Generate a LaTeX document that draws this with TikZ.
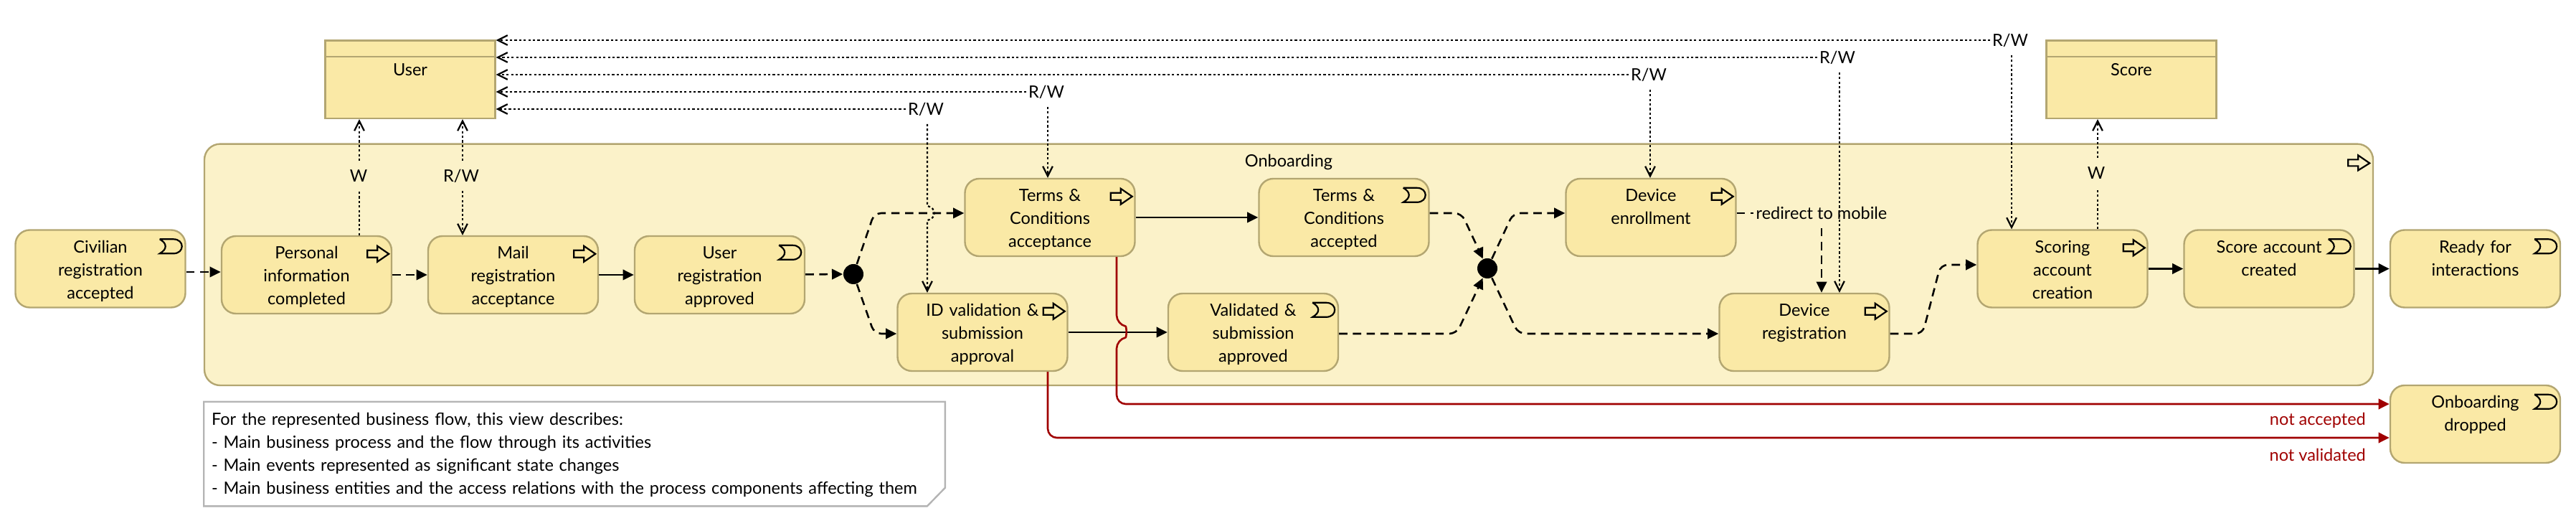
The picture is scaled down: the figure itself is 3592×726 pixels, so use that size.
\documentclass[tikz,border=0pt]{standalone}
\usepackage{fontspec}
\setmainfont{Lato}
\usetikzlibrary{arrows.meta,calc}
\definecolor{boxfill}{HTML}{FAE9A6}
\definecolor{groupfill}{HTML}{FBF2C9}
\definecolor{boxline}{HTML}{B3A671}
\definecolor{noteline}{HTML}{B4B4B4}
\definecolor{dropred}{HTML}{A00000}
\newcommand{\procicon}[1]{\draw[icon,shift={(#1.north east)}] (-35,21) -- (-21,21) -- (-21,15) -- (-5,26) -- (-21,37) -- (-21,31) -- (-35,31) -- cycle;}
\newcommand{\eventicon}[1]{\draw[icon,shift={(#1.north east)}] (-37,14) -- (-18,14) .. controls (-10,14) and (-6,19) .. (-6,24) .. controls (-6,29) and (-10,34) .. (-18,34) -- (-37,34) .. controls (-32,31) and (-29,28) .. (-29,24) .. controls (-29,20) and (-32,17) .. (-37,14);}
\newcommand{\objhead}[1]{\draw[boxline,line width=0.6pt] ($(#1.north west)+(0,24)$) -- ($(#1.north east)+(0,24)$);}
\begin{document}
\begin{tikzpicture}[x=0.25pt,y=-0.25pt,
txt/.style ={font=\fontsize{5.88pt}{8pt}\selectfont, inner sep=0pt, align=center},
group/.style ={txt, rectangle, draw=boxline, fill=groupfill, line width=0.6pt,
  rounded corners=5.5pt, text width=756pt, text height=8pt, text depth=76.1pt
},
block/.style ={txt, rectangle, draw=boxline, fill=boxfill, line width=0.6pt,
  rounded corners=5pt, text width=59.25pt, text height=8pt, text depth=19pt
},
object/.style ={txt, rectangle, draw=boxline, fill=boxfill, line width=0.6pt,
  text width=59.25pt, text height=12.25pt, text depth=14.9pt
},
junction/.style ={circle, fill=black, inner sep=0pt, minimum size=7pt},
lab/.style ={txt, inner xsep=0.6pt, minimum height=10pt},
note/.style ={txt, align=left, text width=253pt, text height=8pt, text depth=28pt,
  inner xsep=2.5pt
},
icon/.style ={draw=black, line width=0.55pt, fill=none},
flow/.style ={line width=0.65pt, -{Triangle[length=3.8pt,width=3.6pt]}},
flowd/.style ={flow, dash pattern=on 2.9pt off 1.9pt, rounded corners=2.5pt},
drop/.style ={line width=0.65pt, draw=dropred, rounded corners=3.2pt,
  -{Triangle[length=3.8pt,width=3.6pt,fill=dropred]}
},
access/.style ={line width=0.55pt, dash pattern=on 0.8pt off 0.8pt,
  -{Straight Barb[length=3.4pt,width=3.4pt]}
}]
\useasboundingbox (0,0) rectangle (3592,726);
\node (onb) at (1797,368.8) [group] {Onboarding};
\node (uobj) at (572,110.7) [object] {User};
\node (sobj) at (2972,110.7) [object] {Score};
\node (civ) at (140,374.5) [block] {Civilian\\registration\\accepted};
\node (pinf) at (427.5,383) [block] {Personal\\information\\completed};
\node (mail) at (715.5,383) [block] {Mail\\registration\\acceptance};
\node (ureg) at (1003.5,383) [block] {User\\registration\\approved};
\node (j1) at (1190,382) [junction] {};
\node (tca) at (1464,303) [block] {Terms \&\\Conditions\\acceptance};
\node (idv) at (1370,463) [block] {ID validation \&\\submission\\approval};
\node (tcd) at (1874,303) [block] {Terms \&\\Conditions\\accepted};
\node (vsa) at (1747.5,463) [block] {Validated \&\\submission\\approved};
\node (j2) at (2074,374) [junction] {};
\node (denr) at (2302,303) [block] {Device\\enrollment};
\node (dreg) at (2516,463) [block] {Device\\registration};
\node (scor) at (2876,374.5) [block] {Scoring\\account\\creation};
\node (sacc) at (3164,374.5) [block] {Score account\\created};
\node (rdy) at (3451.5,374.5) [block] {Ready for\\interactions};
\node (drp) at (3451.5,591) [block] {Onboarding\\dropped};
\node (note) at (801,632.6) [note] {For the represented business flow, this view describes:\\- Main business process and the flow through its activities\\- Main events represented as significant state changes\\- Main business entities and the access relations with the process components affecting them};
\draw[noteline,line width=0.6pt] (note.north west) -- (note.north east) -- ($(note.south east)+(0,-25.6)$) -- ($(note.south east)+(-25,0)$) -- (note.south west) -- cycle;
\objhead{uobj}
\objhead{sobj}
\procicon{pinf}
\procicon{mail}
\procicon{tca}
\procicon{idv}
\procicon{denr}
\procicon{dreg}
\procicon{scor}
\eventicon{civ}
\eventicon{ureg}
\eventicon{tcd}
\eventicon{vsa}
\eventicon{sacc}
\eventicon{rdy}
\eventicon{drp}
\draw[icon,shift={(onb.north east)}] (-36,23) -- (-22,23) -- (-22,17) -- (-6,28) -- (-22,38) -- (-22,32) -- (-36,32) -- cycle;
\node (rw1) at (2803,56) [lab] {R/W};
\node (rw2) at (2562,80) [lab] {R/W};
\node (rw3) at (2299,104) [lab] {R/W};
\node (rw4) at (1459,128) [lab] {R/W};
\node (rw5) at (1291,152) [lab] {R/W};
\node (wu) at (500,245) [lab] {W};
\node (rwu) at (643,245) [lab] {R/W};
\node (ws) at (2923,241) [lab] {W};
\node (redir) at (2540,297) [lab] {redirect to mobile};
\node (nacc) at (3302,586) [lab,anchor=east,text=dropred] {not accepted};
\node (nval) at (3302,634) [lab,anchor=east,text=dropred] {not validated};
\draw[access] (rw1) -- (uobj.north east |- rw1);
\draw[access] (rw2) -- (uobj.north east |- rw2);
\draw[access] (rw3) -- (uobj.north east |- rw3);
\draw[access] (rw4) -- (uobj.north east |- rw4);
\draw[access] (rw5) -- (uobj.north east |- rw5);
\draw[access] (2805,0 |- rw1.south) -- (2805,0 |- scor.north);
\draw[access] (2565,0 |- rw2.south) -- (2565,0 |- dreg.north);
\draw[access] (2301,0 |- rw3.south) -- (2301,0 |- denr.north);
\draw[access] (1461,0 |- rw4.south) -- (1461,0 |- tca.north);
\draw[access] (1293,0 |- rw5.south) -- (1293,287) .. controls (1306,289) and (1306,305) .. (1293,307) -- (1293,0 |- idv.north);
\draw[access,-] (501,0 |- pinf.north) -- (501,0 |- wu.south);
\draw[access] (501,0 |- wu.north) -- (501,0 |- uobj.south);
\draw[access] (645,0 |- rwu.south) -- (645,0 |- mail.north);
\draw[access] (645,0 |- rwu.north) -- (645,0 |- uobj.south);
\draw[access,-] (2925,0 |- scor.north) -- (2925,0 |- ws.south);
\draw[access] (2925,0 |- ws.north) -- (2925,0 |- sobj.south);
\draw[flowd] (civ.east |- 0,379) -- (pinf.west |- 0,379);
\draw[flowd] (pinf) -- (mail);
\draw[flow] (mail) -- (ureg);
\draw[flowd] (ureg) -- (j1);
\draw[flowd] (j1) -- (1219,297) -- (tca.west |- 0,297);
\draw[flowd] (j1) -- (1219,465) -- (idv.west |- 0,465);
\draw[flow] (tca) -- (tcd);
\draw[flow] (idv) -- (vsa);
\draw[flowd] (tcd.east |- 0,297) -- (2038,297) -- (j2);
\draw[flowd] (vsa.east |- 0,465) -- (2031,465) -- (j2);
\draw[flowd] (j2) -- (2110,297) -- (denr.west |- 0,297);
\draw[flowd] (j2) -- (2117,465) -- (dreg.west |- 0,465);
\draw[flowd,-] (denr.east |- redir) -- (redir);
\draw[flowd] (redir) -- (redir |- dreg.north);
\draw[flowd] (dreg.east |- 0,465) -- (2681,465) -- (2706,369) -- (scor.west |- 0,369);
\draw[flow] (scor) -- (sacc);
\draw[flow] (sacc) -- (rdy);
\draw[drop] (1557,0 |- tca.south) -- (1557,452) .. controls (1571,455) and (1571,470) .. (1557,473) -- (1557,563) -- (drp.west |- 0,563);
\draw[drop] (1461,0 |- idv.south) -- (1461,610) -- (drp.west |- 0,610);
\end{tikzpicture}
\end{document}
